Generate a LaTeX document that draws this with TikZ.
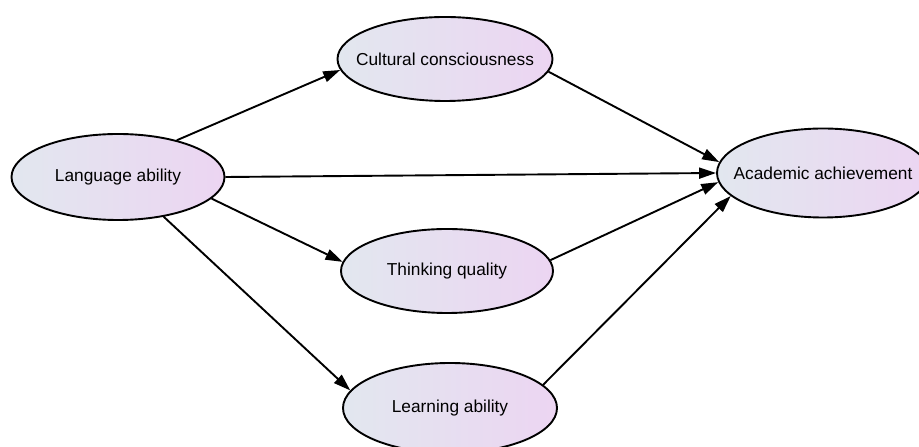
\documentclass[tikz,border=0pt]{standalone}
\usepackage{fontspec}
\setmainfont{Liberation Sans}
\usetikzlibrary{shapes.geometric,arrows.meta}
\definecolor{ellleft}{HTML}{E2E7EF}
\definecolor{ellright}{HTML}{ECD5F2}
\tikzset{
    ellbox/.style={ellipse,draw=black,line width=1.9pt,left color=ellleft,right color=ellright,
        inner sep=0pt,minimum width=213pt,minimum height=85pt,font=\fontsize{17.3}{20}\selectfont},
    path/.style={line width=1.9pt,-{Triangle[length=17pt,width=11pt]}}
}
\begin{document}
\begin{tikzpicture}[x=1pt,y=1pt]
        \useasboundingbox (0,0) rectangle (919,447);
        \node[ellbox,minimum height=86pt] (lang) at (118,270) {\makebox[0pt]{Language ability}};
        \node[ellbox,minimum width=215pt,minimum height=84pt] (cult) at (445,388) {\makebox[0pt]{Cultural consciousness}};
        \node[ellbox,minimum width=212pt,minimum height=84pt] (think) at (447,176) {\makebox[0pt]{Thinking quality}};
        \node[ellbox,minimum width=214pt,minimum height=90pt] (learn) at (450,39) {\makebox[0pt]{Learning ability}};
        \node[ellbox,minimum width=212pt,minimum height=89pt] (acad) at (823,274) {\makebox[0pt]{Academic achievement}};
        \draw[path] (lang.32) -- (cult.186);
        \draw[path] (lang.east) -- (acad.west);
        \draw[path] (lang.-13) -- (think.175);
        \draw[path] (lang.-41) -- (learn.170);
        \draw[path] (cult.-7) -- (acad.174);
        \draw[path] (think.6) -- (acad.185);
        \draw[path] (learn.14) -- (acad.194);
    \end{tikzpicture}
\end{document}
